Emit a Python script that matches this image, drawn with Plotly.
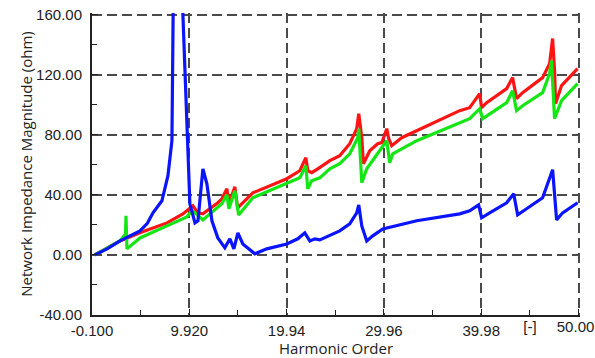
import plotly.graph_objects as go

# ---- data (harmonic order, impedance magnitude in ohm) ----
blue_x = [0.2, 1.5, 2.78, 3.8, 4.84, 5.6, 6.18, 7.10, 7.72, 8.13, 8.54, 8.90, 9.26, 9.67, 9.98, 10.50, 10.81,
          11.32, 11.73, 12.25, 12.86, 13.58, 14.10, 14.51, 14.92, 15.43, 16.67, 17.90, 19.96,
          21.09, 21.81, 22.33, 22.84, 23.36, 25.41, 26.44, 27.16, 27.37, 27.68, 28.19, 28.81,
          29.84, 31.28, 33.34, 37.76, 38.79, 39.71, 40.02, 40.85, 42.60, 43.32, 43.73, 44.65,
          46.30, 47.33, 47.74, 48.36, 49.90]
blue_y = [0.0, 4.2, 9.3, 12.5, 16.0, 21.0, 28.0, 36.0, 52.7, 76.0, 160.0, 600.0, 160.0, 80.0, 34.0, 21.3, 22.7,
          57.3, 47.3, 22.7, 11.3, 4.7, 10.7, 4.0, 14.7, 7.3, 0.7, 4.0, 7.3,
          10.7, 14.7, 9.3, 10.7, 10.0, 16.0, 20.7, 28.0, 33.3, 19.3, 9.3, 12.7,
          17.3, 19.3, 22.7, 27.3, 29.3, 33.3, 24.7, 28.0, 34.7, 40.7, 26.7, 30.7,
          38.0, 56.7, 23.3, 28.0, 34.7]

red_x = [0.2, 1.5, 2.78, 4.84, 7.62, 9.26, 9.98, 10.29, 10.81, 11.32, 12.86, 13.27, 13.79, 14.0,
         14.61, 14.9, 16.46, 19.96, 21.30, 21.92, 22.12, 22.53, 23.15, 24.39, 25.41, 26.44,
         27.16, 27.37, 27.68, 27.85, 28.50, 29.32, 29.74, 30.25, 30.46, 30.76, 31.79, 33.34,
         36.73, 37.76, 38.79, 39.82, 40.02, 40.54, 42.60, 43.21, 43.62, 44.24, 46.30, 47.02,
         47.33, 47.53, 47.64, 48.25, 49.90]
red_y = [0.0, 4.5, 9.3, 14.7, 21.3, 27.3, 31.3, 32.7, 28.0, 27.3, 34.7, 37.3, 44.0, 34.0,
         45.3, 31.3, 41.3, 50.7, 56.0, 64.7, 56.0, 54.7, 57.3, 62.7, 66.0, 74.0,
         84.0, 94.0, 78.0, 60.7, 69.3, 74.0, 74.7, 84.0, 77.3, 72.7, 78.0, 82.7,
         92.7, 96.0, 98.0, 107.3, 98.0, 101.3, 110.7, 118.0, 104.0, 108.0, 118.0, 127.3,
         144.0, 122.7, 100.7, 112.7, 124.0]

green_x = [0.2, 1.5, 2.78, 3.35, 3.40, 3.50, 4.84, 7.62, 9.67, 10.19, 10.50, 11.32, 12.86, 13.27,
           13.79, 14.0, 14.61, 15.0, 16.46, 19.96, 21.30, 21.92, 22.12, 22.53, 23.36, 24.39,
           25.41, 26.44, 27.27, 27.37, 27.68, 28.19, 29.32, 30.25, 30.56, 30.87, 33.34, 36.73,
           37.76, 38.79, 39.82, 40.13, 42.60, 43.21, 43.62, 44.24, 46.30, 47.02, 47.22, 47.53,
           48.25, 49.90]
green_y = [0.0, 4.5, 9.3, 14.0, 26.0, 4.0, 11.3, 19.3, 25.3, 29.3, 28.0, 23.3, 31.3, 34.0,
           40.0, 30.7, 42.7, 26.5, 38.0, 47.3, 51.3, 59.3, 44.0, 49.3, 51.3, 57.3,
           60.7, 67.3, 78.0, 84.0, 48.0, 57.3, 68.0, 76.0, 61.3, 67.3, 76.0, 85.3,
           88.0, 90.7, 97.3, 90.7, 101.3, 109.3, 96.0, 99.3, 108.0, 120.7, 129.3, 90.7,
           102.7, 114.0]

x_tickvals = [-0.1, 9.92, 19.94, 29.96, 39.98, 50.0]
x_ticktext = ["-0.100", "9.920", "19.94", "29.96", "39.98", ""]
end_tickval = [50.0]
end_ticktext = ["50.00"]
unit_tickval = [44.99]
unit_ticktext = ["[-]"]
y_tickvals = [-40, 0, 40, 80, 120, 160]
y_ticktext = ["-40.00", "0.00", "40.00", "80.00", "120.00", "160.00"]

x_range = [-0.1, 50.15]
y_range = [-40, 161]

fig = go.Figure()
for xs, ys, col in [(red_x, red_y, "#ff1414"), (green_x, green_y, "#14e614"), (blue_x, blue_y, "#0a14ff")]:
    fig.add_trace(go.Scatter(x=xs, y=ys, mode="lines", line=dict(color=col, width=3.2),
                             showlegend=False, hoverinfo="skip"))
# dummy traces to activate the label-only axes
fig.add_trace(go.Scatter(x=[None], y=[None], xaxis="x2", showlegend=False))
fig.add_trace(go.Scatter(x=[None], y=[None], xaxis="x3", showlegend=False))

font_family = "Liberation Sans, Arial, sans-serif"
grid_kw = dict(showgrid=True, gridcolor="#4a4a4a", gridwidth=1.5, griddash="10px,5px")
label_axis = dict(overlaying="x", anchor="y", side="bottom", range=x_range, tickmode="array",
                  showgrid=False, zeroline=False, showline=False, ticks="",
                  ticklabelstandoff=1, automargin=False, ticklabeloverflow="allow")

fig.update_layout(
    width=595, height=358,
    margin=dict(l=92, r=14.5, t=12.5, b=43, autoexpand=False),
    paper_bgcolor="white", plot_bgcolor="white",
    font=dict(family=font_family, size=15, color="#222222"),
    xaxis=dict(range=x_range, tickmode="array", tickvals=x_tickvals, ticktext=x_ticktext,
               ticks="inside", ticklen=6, tickcolor="#222", tickwidth=1.3, ticklabelstandoff=1,
               ticklabeloverflow="allow", automargin=False,
               showline=True, linecolor="#222", linewidth=2, zeroline=False,
               minor=dict(ticks="inside", ticklen=5, dtick=5.01, tick0=-0.1, tickcolor="#222", showgrid=False),
               title=dict(text="Harmonic Order", font=dict(family="Open Sans, sans-serif", size=15), standoff=3),
               **grid_kw),
    xaxis2=dict(tickvals=unit_tickval, ticktext=unit_ticktext, **label_axis),
    xaxis3=dict(tickvals=end_tickval, ticktext=end_ticktext, ticklabelshift=-3, **label_axis),
    yaxis=dict(range=y_range, tickmode="array", tickvals=y_tickvals, ticktext=y_ticktext,
               ticks="inside", ticklen=6, tickcolor="#222", tickwidth=1.3, ticklabelstandoff=5,
               ticklabeloverflow="allow", automargin=False,
               showline=True, linecolor="#222", linewidth=2, zeroline=False,
               minor=dict(ticks="inside", ticklen=5, dtick=20, tick0=0, tickcolor="#222", showgrid=False),
               title=dict(text="Network Impedance Magnitude (ohm)", font=dict(family="Open Sans, sans-serif", size=15), standoff=0),
               **grid_kw),
)

fig.write_html("out.html")
